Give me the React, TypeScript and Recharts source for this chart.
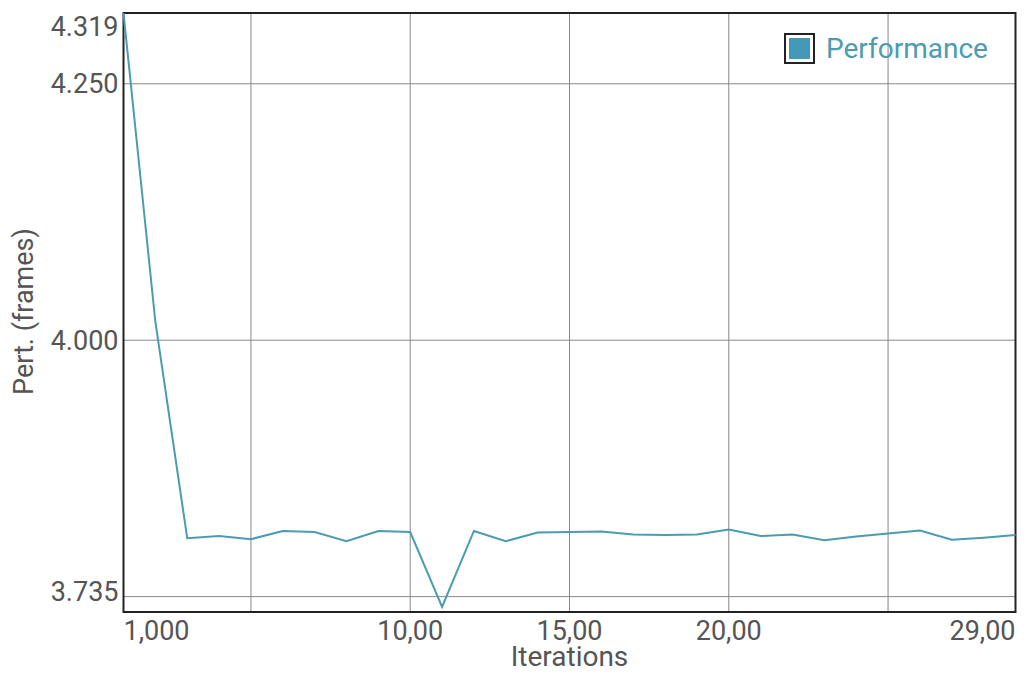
import React from 'react';
import { LineChart, Line, XAxis, YAxis, CartesianGrid, ReferenceArea } from 'recharts';

const iterations = [1, 2, 3, 4, 5, 6, 7, 8, 9, 10, 11, 12, 13, 14, 15, 16, 17, 18, 19, 20, 21, 22, 23, 24, 25, 26, 27, 28, 29];
const performance = [4.319, 4.018, 3.807, 3.809, 3.806, 3.814, 3.813, 3.804, 3.814, 3.813, 3.74, 3.814, 3.804, 3.8125, 3.813, 3.8135, 3.8105, 3.81, 3.8105, 3.8155, 3.809, 3.8105, 3.805, 3.8085, 3.8115, 3.8145, 3.8055, 3.8075, 3.81];

const xTicks = [1, 5, 10, 15, 20, 25, 29];
const xTickLabels = ['1,000', '', '10,00', '15,00', '20,00', '', '29,00'];
const yTicks = [3.735, 3.75, 4.0, 4.25, 4.319];
const yTickLabels = ['3.735', '', '4.000', '4.250', '4.319'];

const seriesName = 'Performance';
const xTitle = 'Iterations';
const yTitle = 'Pert. (frames)';

const data = iterations.map((it, i) => ({ iteration: it, performance: performance[i] }));

const FONT = 'Roboto, "Noto Sans", sans-serif';
const TEXT = '#555555';
const LINE = '#4b9bb1';

const XTick = (props: any) => {
  const { x, y, payload } = props;
  const i = xTicks.indexOf(payload.value);
  const label = i >= 0 ? xTickLabels[i] : '';
  if (!label) return null;
  const anchor = i === 0 ? 'start' : i === xTicks.length - 1 ? 'end' : 'middle';
  return (
    <text x={x} y={y} dy={28} textAnchor={anchor} fill={TEXT} fontSize={27} fontFamily={FONT}>
      {label}
    </text>
  );
};

const YTick = (props: any) => {
  const { x, y, payload } = props;
  const i = yTicks.indexOf(payload.value);
  const label = i >= 0 ? yTickLabels[i] : '';
  if (!label) return null;
  const dy = i === 0 ? -11 : i === yTicks.length - 1 ? 23 : 9.5;
  return (
    <text x={x} y={y} dy={dy} textAnchor="end" fill={TEXT} fontSize={27} fontFamily={FONT}>
      {label}
    </text>
  );
};

const YTitle = (props: any) => {
  const vb = props.viewBox || { x: 0, y: 0, width: 0, height: 0 };
  const cx = vb.x + 25;
  const cy = vb.y + vb.height / 2 - 1;
  return (
    <text x={cx} y={cy} transform={`rotate(-90, ${cx}, ${cy})`} textAnchor="middle" fill={TEXT} fontSize={27} fontFamily={FONT}>
      {yTitle}
    </text>
  );
};

const XTitle = (props: any) => {
  const vb = props.viewBox || { x: 0, y: 0, width: 0, height: 0 };
  const cx = vb.x + vb.width / 2;
  const cy = vb.y + 54;
  return (
    <text x={cx} y={cy} textAnchor="middle" fill={TEXT} fontSize={28} fontFamily={FONT}>
      {xTitle}
    </text>
  );
};

const LegendBox = () => (
  <div style={{ position: 'absolute', top: 25, left: 776, display: 'flex', alignItems: 'center', fontFamily: FONT }}>
    <span
      style={{
        display: 'inline-block',
        width: 31,
        height: 31,
        boxSizing: 'border-box',
        border: '2px solid #222',
        padding: 3,
        background: '#4499bb',
        backgroundClip: 'content-box',
      }}
    />
    <span style={{ marginLeft: 11, fontSize: 28, lineHeight: '31px', color: LINE, whiteSpace: 'nowrap' }}>{seriesName}</span>
  </div>
);

export default function App() {
  return (
    <div style={{ position: 'relative', width: 1020, height: 668 }}>
      <LineChart width={1020} height={668} data={data} margin={{ top: 5, right: 12.5, left: 0, bottom: 4 }}>
        <CartesianGrid stroke="#888" strokeWidth={1} />
        <XAxis
          dataKey="iteration"
          type="number"
          domain={[1, 29]}
          ticks={xTicks}
          interval={0}
          axisLine={false}
          tickLine={false}
          tickSize={0}
          tickMargin={0}
          height={60}
          tick={<XTick />}
          label={{ content: <XTitle /> }}
        />
        <YAxis
          type="number"
          domain={[3.735, 4.319]}
          ticks={yTicks}
          interval={0}
          axisLine={false}
          tickLine={false}
          tickSize={0}
          tickMargin={5}
          width={115.5}
          tick={<YTick />}
          label={{ content: <YTitle /> }}
          allowDataOverflow
        />
        <ReferenceArea x1={1} x2={29} y1={3.735} y2={4.319} fill="none" stroke="#222" strokeWidth={2} />
        <Line
          type="linear"
          dataKey="performance"
          name={seriesName}
          stroke={LINE}
          strokeWidth={2}
          dot={false}
          isAnimationActive={false}
        />
      </LineChart>
      <LegendBox />
    </div>
  );
}
